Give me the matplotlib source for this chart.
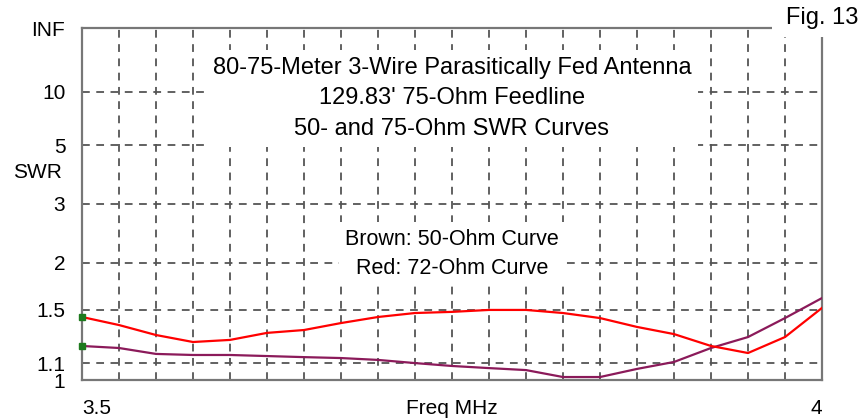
import numpy as np
import matplotlib
matplotlib.use('Agg')
import matplotlib.pyplot as plt
from matplotlib.patches import Rectangle

plt.rcParams['font.family'] = ['Liberation Sans', 'DejaVu Sans']
plt.rcParams['font.size'] = 15

# DATA
freqs = [3.500, 3.525, 3.550, 3.575, 3.600, 3.625, 3.650, 3.675, 3.700, 3.725,
         3.750, 3.775, 3.800, 3.825, 3.850, 3.875, 3.900, 3.925, 3.950, 3.975, 4.000]
swr_72 = [1.436, 1.370, 1.293, 1.242, 1.257, 1.309, 1.331, 1.386, 1.436, 1.470,
          1.480, 1.497, 1.497, 1.470, 1.427, 1.355, 1.300, 1.214, 1.166, 1.278, 1.515]
swr_50 = [1.214, 1.200, 1.160, 1.153, 1.153, 1.146, 1.139, 1.133, 1.121, 1.101,
          1.083, 1.070, 1.058, 1.017, 1.017, 1.065, 1.108, 1.200, 1.278, 1.427, 1.607]
swr_ticks = [1, 1.1, 1.5, 2, 3, 5, 10, 1e6]
swr_labels = ['1', '1.1', '1.5', '2', '3', '5', '10', 'INF']
x_labels = ['3.5'] + [''] * 19 + ['4']


# SWR axis is linear in reflection coefficient
def to_rho(s):
    s = np.asarray(s, dtype=float)
    return (s - 1) / (s + 1)


def from_rho(r):
    r = np.asarray(r, dtype=float)
    with np.errstate(divide='ignore', invalid='ignore'):
        return (1 + r) / (1 - r)


fig = plt.figure(figsize=(8.6, 4.2), dpi=100)
ax = fig.add_axes([82 / 860, 40 / 420, 740 / 860, 352 / 420])
ax.set_yscale('function', functions=(to_rho, from_rho))
ax.set_xlim(3.5, 4.0)
ax.set_ylim(1, 1e6)

ax.set_yticks(swr_ticks)
ax.set_yticklabels(swr_labels)
ax.set_xticks(freqs)
ax.set_xticklabels(x_labels)
ax.minorticks_off()
ax.tick_params(length=0)
ax.tick_params(axis='y', pad=12)
ax.tick_params(axis='x', pad=14)
xl = ax.get_xticklabels()
xl[0].set_ha('left')
xl[-1].set_ha('right')

ax.grid(True, color='#555555', linestyle=(0, (4.3, 3.6)), linewidth=1.3)
for sp in ax.spines.values():
    sp.set_color('#777777')
    sp.set_linewidth(1.6)

# curves
ax.plot(freqs, swr_50, color='#8b1a5a', linewidth=1.6, zorder=3)
ax.plot(freqs, swr_72, color='#ff0000', linewidth=1.6, zorder=3)
ax.plot([freqs[0], freqs[0]], [swr_50[0], swr_72[0]], linestyle='none',
        marker='s', markersize=5, color='#1e7a1e', zorder=4, clip_on=False)

box = dict(facecolor='white', edgecolor='none', boxstyle='square,pad=0.3')
ax.text(0.5, 0.80, "80-75-Meter 3-Wire Parasitically Fed Antenna\n"
        "129.83' 75-Ohm Feedline\n50- and 75-Ohm SWR Curves",
        transform=ax.transAxes, ha='center', va='center', multialignment='center',
        fontsize=17, linespacing=1.5, bbox=box, zorder=5)
ax.text(0.5, 0.358, "Brown: 50-Ohm Curve\nRed: 72-Ohm Curve",
        transform=ax.transAxes, ha='center', va='center', multialignment='center',
        fontsize=15.5, linespacing=1.55, bbox=box, zorder=5)
ax.text(0.5, -0.08, 'Freq MHz', transform=ax.transAxes, ha='center', va='center')

fig.text(13 / 860, 1 - 172 / 420, 'SWR', ha='left', va='center')

# Fig. 13 label breaks the top-right corner of the frame
fig.add_artist(Rectangle((772 / 860, 1 - 37 / 420), 88 / 860, 37 / 420,
                         transform=fig.transFigure, facecolor='white',
                         edgecolor='none', zorder=5))
fig.text(786 / 860, 1 - 18 / 420, 'Fig. 13', ha='left', va='center',
         fontsize=17, zorder=6)

fig.savefig('out.png', dpi=100, facecolor='white')
